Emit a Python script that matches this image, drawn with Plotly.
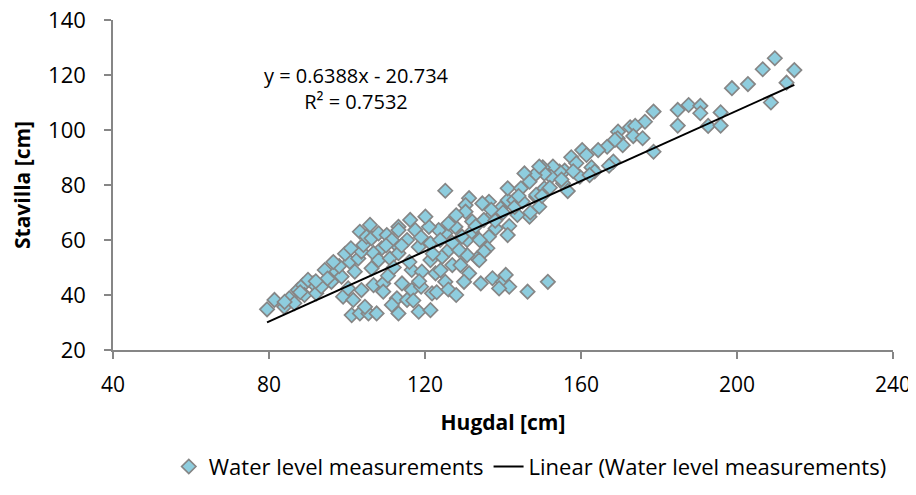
import numpy as np
import plotly.graph_objects as go

# Hugdal [cm] (x) and Stavilla [cm] (y) water level measurements
hugdal = [
    209.7, 206.6, 214.7, 212.7, 202.8, 198.7, 208.7, 184.8, 187.6, 190.6, 190.6, 195.8, 184.8, 192.6, 195.8,
    178.6, 176.4, 172.6, 173.9, 169.5, 169.4, 173.4, 175.8, 166.7, 170.7, 178.6, 168.3, 167.2,
    168.7, 164.4, 160.3, 161.4, 157.5, 158.8, 162.7, 163.5, 159.7, 162.2, 155.8, 154.5, 152.8, 150.2,
    152.3, 150.6, 148.1, 155.4, 156.6, 150.6, 148.5, 149.3, 151.5,
    125.2, 131.3, 130.4, 130.4, 132.1, 136.4, 134.7, 139.4, 141.2, 142.9, 141.2, 144.6, 145.5, 146.8,
    149.3, 148.5, 137.3, 135.1, 138.1, 141.6, 146.8, 143.7, 141.2, 136.4, 136.0, 135.1, 133.4, 130.8,
    130.8, 129.5, 127.8, 125.2, 123.5, 121.0, 120.1, 116.2, 113.2, 115.4, 117.5, 118.4, 113.2, 121.4,
    123.9, 121.4, 124.4, 127.0, 129.1, 131.3, 130.0, 133.9, 134.3, 137.3, 139.9, 140.7, 141.6, 139.0,
    146.3, 116.6, 119.2, 122.7, 125.2, 121.8, 116.6, 114.1, 112.8, 113.2, 118.4, 121.4, 115.4, 126.1,
    128.7,
    79.5, 81.4, 83.9, 85.2, 86.5, 87.4, 88.7, 89.1, 91.3, 92.1, 93.4, 94.3, 96.0, 97.3, 98.6, 99.0,
    100.7, 100.3, 102.0, 102.9, 103.7, 104.2, 103.3, 105.9, 105.0, 106.3, 108.1, 110.2, 113.2, 111.5,
    108.9, 106.8, 108.1, 111.0, 113.2, 106.3, 103.7, 106.8, 109.3, 109.3, 101.2, 103.3, 105.5, 107.6,
    104.6, 101.6, 111.5,
    98.0, 96.5, 99.5, 101.0, 110.0, 114.0, 119.0, 126.0, 128.0, 132.0, 134.0, 138.0, 140.0, 143.0,
    145.0, 147.0, 150.0, 152.0, 155.0, 158.0, 117.0, 119.0, 123.0, 126.0, 128.0, 90.0, 95.0, 84.0,
    88.0, 92.0, 110.5, 112.0, 124.0, 127.0, 133.0, 137.0, 144.0, 116.0, 122.0, 118.5,
]
stavilla = [
    126.1, 122.1, 121.8, 117.2, 116.7, 115.2, 110.0, 107.3, 109.1, 108.8, 106.1, 106.4, 101.6, 101.5, 101.6,
    106.7, 103.0, 101.0, 101.5, 99.4, 97.0, 97.8, 97.0, 93.9, 94.5, 92.1, 88.5, 87.0,
    96.4, 92.7, 92.7, 90.9, 90.1, 87.9, 86.4, 84.9, 83.0, 83.6, 85.2, 84.9, 86.7, 86.4,
    83.0, 84.2, 83.6, 80.6, 77.8, 78.8, 75.7, 72.1, 44.8,
    77.9, 75.2, 72.7, 70.3, 66.7, 73.9, 73.3, 71.5, 74.5, 74.5, 78.8, 78.8, 84.2, 81.2,
    86.7, 76.4, 69.1, 67.3, 64.2, 65.1, 68.5, 69.1, 61.8, 61.2, 57.0, 55.8, 53.3, 54.5,
    60.0, 61.2, 64.8, 62.4, 63.6, 64.8, 68.5, 67.3, 64.8, 60.0, 63.6, 57.5, 57.5, 58.8,
    60.0, 52.7, 53.9, 50.9, 50.9, 47.9, 44.8, 52.7, 44.2, 46.1, 44.8, 47.3, 43.0, 42.4,
    41.2, 49.1, 48.5, 47.9, 44.8, 40.6, 41.8, 44.2, 38.8, 33.3, 33.9, 34.5, 38.2, 56.4,
    56.4,
    34.8, 38.2, 35.7, 38.8, 37.0, 41.8, 43.6, 40.0, 44.2, 40.6, 43.0, 49.1, 44.8, 48.5, 46.7, 39.4,
    52.1, 42.4, 48.5, 53.3, 55.8, 58.2, 63.0, 65.5, 61.2, 60.6, 62.4, 61.8, 63.6, 60.0,
    57.0, 55.2, 52.7, 53.3, 55.2, 49.7, 41.8, 43.6, 44.2, 41.2, 32.7, 33.3, 33.3, 33.3,
    35.7, 38.2, 36.4,
    50.5, 52.0, 55.0, 57.0, 58.0, 58.0, 61.0, 66.0, 69.0, 63.0, 60.0, 67.0, 70.0, 72.0,
    74.0, 70.0, 76.0, 79.0, 82.0, 85.0, 38.0, 43.0, 41.0, 42.0, 40.0, 45.5, 46.0, 37.5,
    41.0, 45.0, 47.0, 50.0, 49.0, 59.0, 65.0, 71.0, 76.0, 52.0, 55.0, 45.0,
]

# Linear trendline coefficients (as shown on the chart)
slope = 0.6388
intercept = -20.734
equation_text = "y = 0.6388x - 20.734<br>R² = 0.7532"

x_ticks = [40, 80, 120, 160, 200, 240]
y_ticks = [20, 40, 60, 80, 100, 120, 140]

line_x = np.array([min(hugdal), max(hugdal)])
line_y = slope * line_x + intercept

FONT = "Open Sans"
FS = 21

fig = go.Figure()
fig.add_trace(go.Scatter(
    x=hugdal, y=stavilla, mode="markers", name="Water level measurements",
    marker=dict(symbol="diamond", size=11, color="#8ECDDE",
                line=dict(color="#868686", width=1.7)),
))
fig.add_trace(go.Scatter(
    x=line_x, y=line_y, mode="lines", name="Linear (Water level measurements)",
    line=dict(color="#000000", width=2),
))

fig.add_annotation(
    x=102.5, y=115, xref="x", yref="y", text=equation_text, showarrow=False,
    align="center", font=dict(family=FONT, size=20, color="#000000"),
)

axis_common = dict(
    showline=True, linecolor="#868686", linewidth=1.5, ticks="outside", ticklen=7,
    tickcolor="#868686", tickwidth=1.5, showgrid=False, zeroline=False, mirror=False,
    automargin=False,
)

# The page body adds an 8px offset, so the figure is 8px smaller than the window.
fig.update_layout(
    width=908, height=487,
    margin=dict(l=105, r=23, t=12, b=145, autoexpand=False),
    plot_bgcolor="white", paper_bgcolor="white",
    font=dict(family=FONT, color="#000000"),
    xaxis=dict(range=[40, 240], tickvals=x_ticks, **axis_common,
               ticklabelstandoff=8, ticklabeloverflow="allow",
               tickfont=dict(family=FONT, size=FS, color="#000000"),
               title=dict(text="<b>Hugdal [cm]</b>", standoff=18,
                          font=dict(family=FONT, size=FS, color="#000000"))),
    yaxis=dict(range=[20, 140], tickvals=y_ticks, **axis_common,
               ticklabelstandoff=14, ticklabeloverflow="allow",
               tickfont=dict(family=FONT, size=22, color="#000000"),
               title=dict(text="<b>Stavilla [cm]</b>", standoff=14,
                          font=dict(family=FONT, size=FS, color="#000000"))),
    legend=dict(orientation="h", x=0.535, xanchor="center", y=-0.29, yanchor="top",
                font=dict(family=FONT, size=22, color="#000000"),
                bgcolor="rgba(0,0,0,0)"),
    showlegend=True,
)

fig.write_html("out.html")
